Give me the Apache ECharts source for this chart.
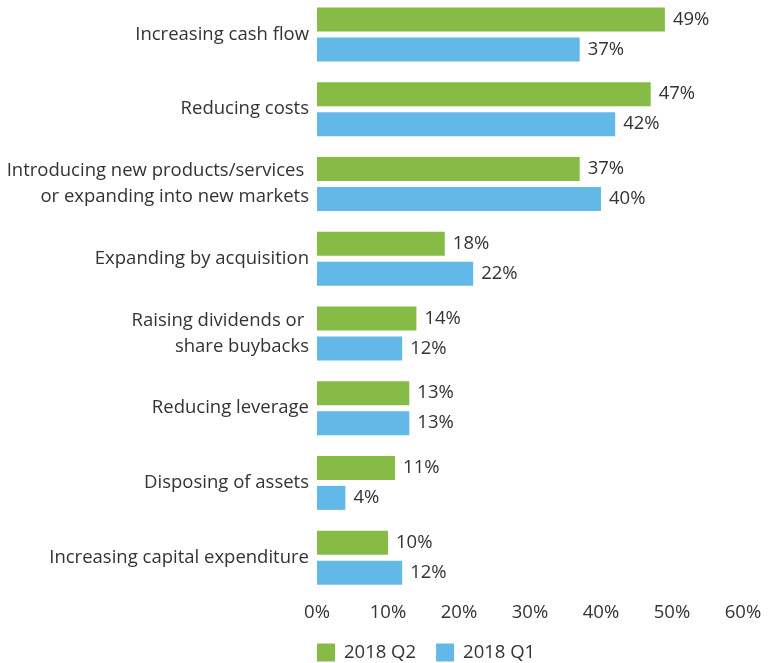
<!DOCTYPE html>
<html>
<head>
<meta charset="utf-8">
<script src="https://cdn.jsdelivr.net/npm/echarts@6/dist/echarts.min.js"></script>
<style>
  html, body { margin: 0; padding: 0; background: #fff; }
  #chart { width: 769px; height: 663px; }
</style>
</head>
<body>
<div id="chart"></div>
<script>
// Business priorities, share of respondents (%)
const categories = [
  'Increasing cash flow',
  'Reducing costs',
  'Introducing new products/services \nor expanding into new markets',
  'Expanding by acquisition',
  'Raising dividends or \nshare buybacks',
  'Reducing leverage',
  'Disposing of assets',
  'Increasing capital expenditure'
];
const q2Values = [49, 47, 37, 18, 14, 13, 11, 10];
const q1Values = [37, 42, 40, 22, 12, 13, 4, 12];
const seriesNames = ['2018 Q2', '2018 Q1'];
const xTicks = [0, 10, 20, 30, 40, 50, 60];

const FONT = '"Open Sans", sans-serif';
const TEXT = '#333333';
const SIZE = 18.5;

const chart = echarts.init(document.getElementById('chart'), null, { renderer: 'canvas' });

const valueLabel = {
  show: true,
  position: 'right',
  distance: 8,
  formatter: p => p.value + '%',
  color: TEXT,
  fontFamily: FONT,
  fontSize: SIZE
};

chart.setOption({
  animation: false,
  backgroundColor: '#ffffff',
  grid: {
    left: 317, right: 26, top: -3, height: 598,
    containLabel: false,
    outerBoundsMode: 'none'
  },
  xAxis: {
    type: 'value',
    min: xTicks[0],
    max: xTicks[xTicks.length - 1],
    interval: 10,
    axisLine: { show: false },
    axisTick: { show: false },
    splitLine: { show: false },
    axisLabel: {
      formatter: v => v + '%',
      color: TEXT,
      fontFamily: FONT,
      fontSize: SIZE,
      margin: 8
    }
  },
  yAxis: {
    type: 'category',
    inverse: true,
    data: categories,
    axisLine: { show: false },
    axisTick: { show: false },
    axisLabel: {
      color: TEXT,
      fontFamily: FONT,
      fontSize: SIZE,
      lineHeight: 26,
      margin: 8,
      align: 'right'
    }
  },
  legend: {
    data: seriesNames,
    left: 317,
    top: 643,
    padding: 0,
    itemWidth: 18,
    itemHeight: 18,
    itemGap: 20,
    icon: 'rect',
    textStyle: { color: TEXT, fontFamily: FONT, fontSize: SIZE, padding: [0, 0, 0, 4] }
  },
  series: [
    {
      name: seriesNames[0],
      type: 'bar',
      data: q2Values,
      barWidth: 24,
      barGap: '25%',
      itemStyle: { color: '#86bc46' },
      label: valueLabel
    },
    {
      name: seriesNames[1],
      type: 'bar',
      data: q1Values,
      barWidth: 24,
      itemStyle: { color: '#62b9e8' },
      label: valueLabel
    }
  ]
});
</script>
</body>
</html>
